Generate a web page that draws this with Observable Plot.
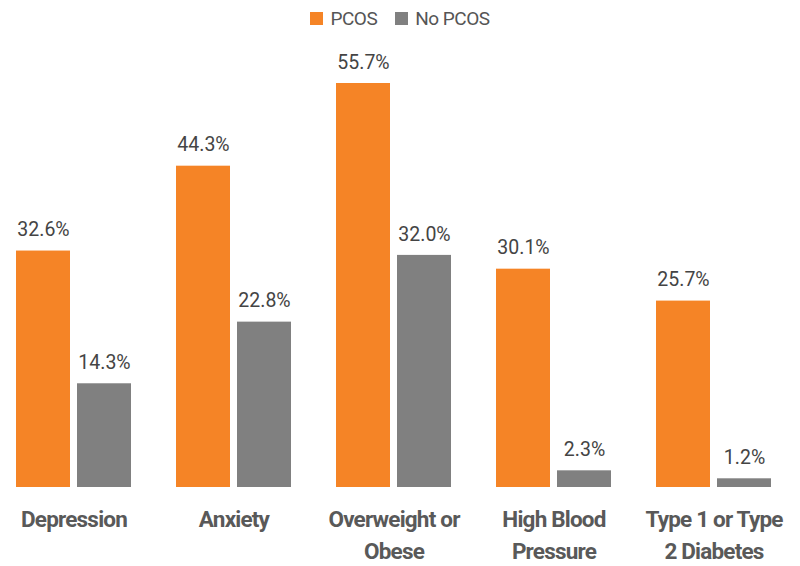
<!DOCTYPE html>
<html>
<head>
<meta charset="utf-8">
<script src="https://cdn.jsdelivr.net/npm/d3@7"></script>
<script src="https://cdn.jsdelivr.net/npm/@observablehq/plot@0.6"></script>
<style>
  body { margin: 0; background: #fff; }
  #wrap { width: 800px; font-family: Roboto, "Liberation Sans", sans-serif; }
  #legend { height: 36px; display: flex; justify-content: center; align-items: center; gap: 18px; font-size: 19px; color: #555; letter-spacing: -0.5px; }
  #legend span.item { display: flex; align-items: center; gap: 7px; }
  #legend span.sw { display: inline-block; width: 13px; height: 13px; }
</style>
</head>
<body>
<div id="wrap">
  <div id="legend"></div>
  <div id="chart"></div>
</div>
<script>
const categories = ["Depression", "Anxiety", "Overweight or Obese", "High Blood Pressure", "Type 1 or Type 2 Diabetes"];
const tickLabels = ["Depression", "Anxiety", "Overweight or\nObese", "High Blood\nPressure", "Type 1 or Type\n2 Diabetes"];
const seriesNames = ["PCOS", "No PCOS"];
const seriesColors = ["#F58426", "#808080"];
const pcosValues = [32.6, 44.3, 55.7, 30.1, 25.7];
const noPcosValues = [14.3, 22.8, 32.0, 2.3, 1.2];

const data = [];
categories.forEach((c, i) => {
  data.push({category: c, series: "PCOS", value: pcosValues[i]});
  data.push({category: c, series: "No PCOS", value: noPcosValues[i]});
});

const legend = document.getElementById("legend");
seriesNames.forEach((s, i) => {
  const item = document.createElement("span");
  item.className = "item";
  item.innerHTML = `<span class="sw" style="background:${seriesColors[i]}"></span><span>${s}</span>`;
  legend.appendChild(item);
});

const labelMap = new Map(categories.map((c, i) => [c, tickLabels[i]]));
const font = 'Roboto, "Liberation Sans", sans-serif';

const chart = Plot.plot({
  width: 800,
  height: 530,
  marginTop: 47,
  marginBottom: 79,
  marginLeft: 13,
  marginRight: 26,
  style: {fontFamily: font, background: "#fff"},
  fx: {domain: categories, padding: 0.267, paddingOuter: 0, label: null, axis: null},
  x: {domain: seriesNames, padding: 0.11, paddingOuter: 0, axis: null},
  y: {domain: [0, 55.7], axis: null},
  color: {domain: seriesNames, range: seriesColors},
  marks: [
    Plot.barY(data, {fx: "category", x: "series", y: "value", fill: "series"}),
    Plot.text(data, {fx: "category", x: "series", y: "value", text: d => d.value.toFixed(1) + "%", dy: -21, fontSize: 19.5, fill: "#444", style: "letter-spacing:-0.6px"}),
    Plot.axisFx({anchor: "bottom", tickSize: 0, tickPadding: 16, tickFormat: d => labelMap.get(d), fontSize: 22.5, fontWeight: "bold", fill: "#595959", lineHeight: 1.45, label: null})
  ]
});
chart.querySelectorAll("g[aria-label='fx-axis tick label'] text").forEach(t => t.style.letterSpacing = "-0.8px");
document.getElementById("chart").appendChild(chart);
</script>
</body>
</html>
